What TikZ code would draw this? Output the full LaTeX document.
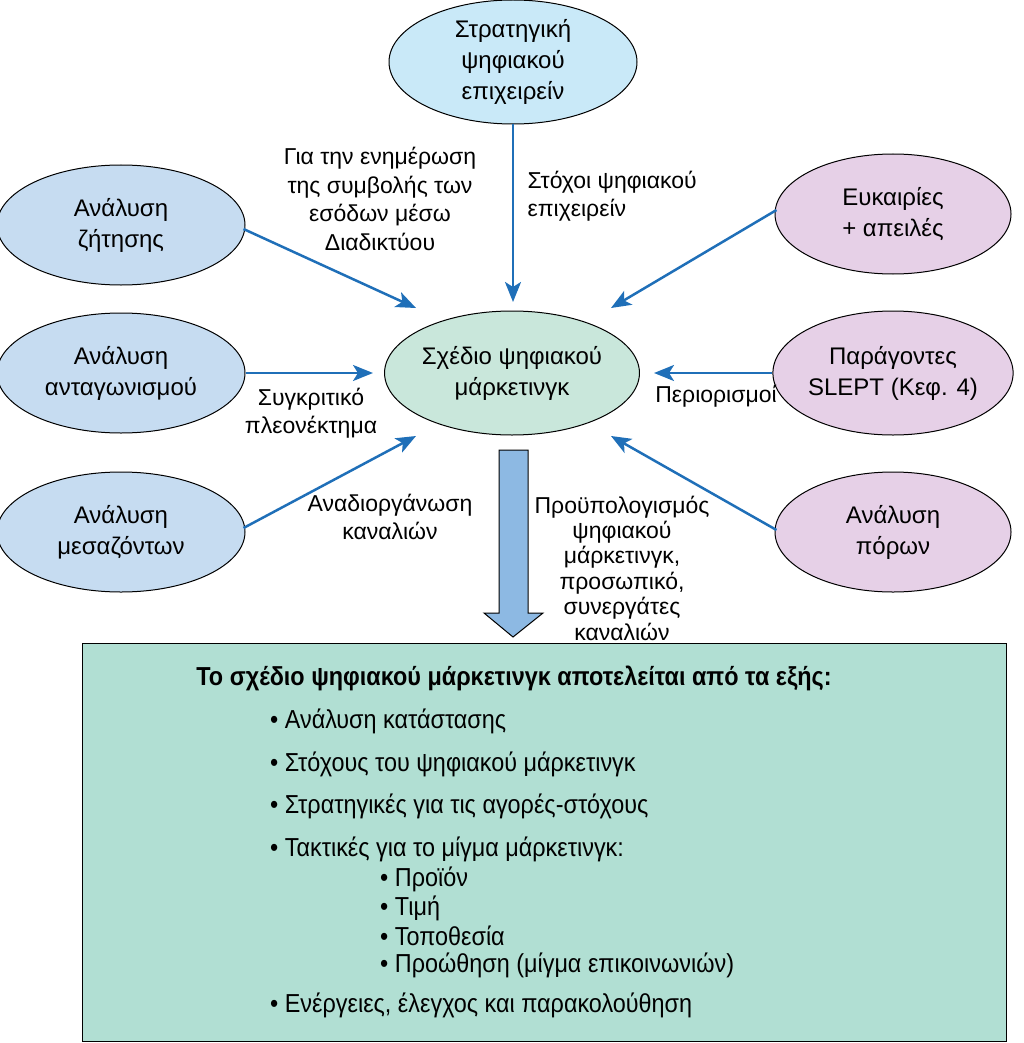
\documentclass[tikz,border=0pt]{standalone}
\usepackage{fontspec}
\setmainfont{Liberation Sans}
\newfontfamily\narrowfont[FakeStretch=0.9]{Liberation Sans}
\usetikzlibrary{positioning,arrows.meta,shapes.geometric}
\definecolor{linkblue}{HTML}{1F6FB8}
\definecolor{leftfill}{HTML}{C6DCF1}
\definecolor{topfill}{HTML}{C9E9F8}
\definecolor{planfill}{HTML}{C9E7DB}
\definecolor{rightfill}{HTML}{E6D0E7}
\definecolor{boxfill}{HTML}{B1DFD3}
\definecolor{bigarrowfill}{HTML}{8DB9E3}

\begin{document}
\begin{tikzpicture}[x=1pt, y=-1pt,
    oval/.style={ellipse, draw, line width=1pt, minimum width=248pt, minimum height=120pt, inner sep=0pt, align=center, font=\fontsize{24}{31}\selectfont},
    link/.style={-{Stealth[length=20pt, width=16pt, inset=5pt]}, draw=linkblue, line width=2.5pt},
    note/.style={align=center, font=\fontsize{23}{28.5}\selectfont},
    item/.style={anchor=west, inner sep=0pt, font=\narrowfont\fontsize{26}{30}\selectfont}
]
    \useasboundingbox (0,0) rectangle (1024,1043);

    % ellipses
    \node[oval, fill=topfill, minimum height=124pt] (strategy) at (513,62) {Στρατηγική\\ψηφιακού\\επιχειρείν};
    \node[oval, fill=planfill, minimum height=124pt] (plan) at (512,373) {Σχέδιο ψηφιακού\\μάρκετινγκ};
    \node[oval, fill=leftfill] (demand) at (121,225) {Ανάλυση\\ζήτησης};
    \node[oval, fill=leftfill] (competition) at (121,373) {Ανάλυση\\ανταγωνισμού};
    \node[oval, fill=leftfill] (intermed) at (121,532) {Ανάλυση\\μεσαζόντων};
    \node[oval, fill=rightfill, minimum width=236pt] (chances) at (893,214) {Ευκαιρίες\\+ απειλές};
    \node[oval, fill=rightfill, minimum width=236pt, minimum height=124pt] (slept) at (893,373) {Παράγοντες\\SLEPT (Κεφ. 4)};
    \node[oval, fill=rightfill, minimum width=236pt] (resources) at (893,532) {Ανάλυση\\πόρων};

    % connectors
    \coordinate (tipN) at (513,302);
    \coordinate (tipNW) at (416,308);
    \coordinate (tipW) at (373,373);
    \coordinate (tipSW) at (416,436);
    \coordinate (tipNE) at (611,308);
    \coordinate (tipE) at (654,373);
    \coordinate (tipSE) at (611,436);
    \draw[link] (strategy) -- (tipN);
    \draw[link] (demand.east) ++(-2,4) -- (tipNW);
    \draw[link] (competition) -- (tipW);
    \draw[link] (intermed.east) ++(-2,-4) -- (tipSW);
    \draw[link] (chances.west) ++(2,-4) -- (tipNE);
    \draw[link] (slept) -- (tipE);
    \draw[link] (resources.west) ++(2,-2) -- (tipSE);

    % labels
    \node[note] (revenue) at (380,199) {Για την ενημέρωση\\της συμβολής των\\εσόδων μέσω\\Διαδικτύου};
    \node[note, align=left, anchor=west] (goals) at (524,196) {Στόχοι ψηφιακού\\επιχειρείν};
    \node[note] (advantage) at (311,413) {Συγκριτικό\\πλεονέκτημα};
    \node[note] (channels) at (390,517) {Αναδιοργάνωση\\καναλιών};
    \node[note] (limits) at (716,396) {Περιορισμοί};
    \node[note, font=\fontsize{23}{25.4}\selectfont] (budget) at (622,568) {Προϋπολογισμός\\ψηφιακού\\μάρκετινγκ,\\προσωπικό,\\συνεργάτες\\καναλιών};

    % big arrow
    \draw[fill=bigarrowfill, draw=black, line width=1pt] (499,450) -- (528,450) -- (528,613) -- (543,613)
        -- (513,637) -- (484,613) -- (499,613) -- cycle;

    % contents box
    \node[draw, line width=1pt, fill=boxfill, minimum width=924pt, minimum height=398pt, inner sep=0pt] (contents) at (544,842) {};
    \node[inner sep=0pt, font=\narrowfont\bfseries\fontsize{26}{30}\selectfont] (head) at (514,678) {Το σχέδιο ψηφιακού μάρκετινγκ αποτελείται από τα εξής:};
    \node[item] (i1) at (270,721) {• Ανάλυση κατάστασης};
    \node[item] (i2) at (270,764) {• Στόχους του ψηφιακού μάρκετινγκ};
    \node[item] (i3) at (270,806) {• Στρατηγικές για τις αγορές-στόχους};
    \node[item] (i4) at (270,849) {• Τακτικές για το μίγμα μάρκετινγκ:};
    \node[item] (s1) at (380,879) {• Προϊόν};
    \node[item] (s2) at (380,908) {• Τιμή};
    \node[item] (s3) at (380,936) {• Τοποθεσία};
    \node[item] (s4) at (380,965) {• Προώθηση (μίγμα επικοινωνιών)};
    \node[item] (i5) at (270,1005) {• Ενέργειες, έλεγχος και παρακολούθηση};
\end{tikzpicture}
\end{document}
